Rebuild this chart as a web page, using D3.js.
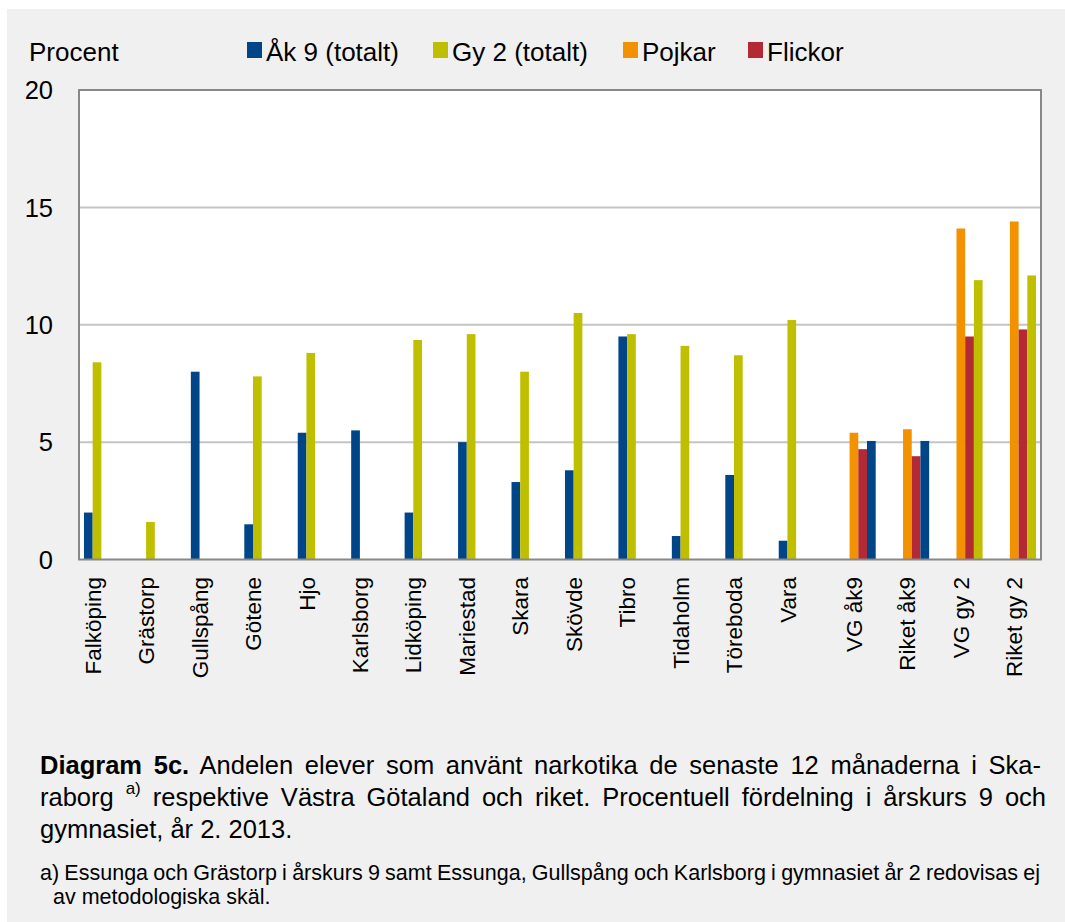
<!DOCTYPE html>
<html>
<head>
<meta charset="utf-8">
<script src="https://cdn.jsdelivr.net/npm/d3@7"></script>
<style>
  body { margin: 0; background: #fff; }
  svg { display: block; font-family: "Liberation Sans", Arial, sans-serif; }
</style>
</head>
<body>
<div id="chart"></div>
<script>
// data (percent)
const categories = ['Falköping', 'Grästorp', 'Gullspång', 'Götene', 'Hjo', 'Karlsborg', 'Lidköping',
    'Mariestad', 'Skara', 'Skövde', 'Tibro', 'Tidaholm', 'Töreboda', 'Vara',
    'VG åk9', 'Riket åk9', 'VG gy 2', 'Riket gy 2'];
const ak9 = [2.0, null, 8.0, 1.5, 5.4, 5.5, 2.0, 5.0, 3.3, 3.8, 9.5, 1.0, 3.6, 0.8, null, null, null, null];
const gy2 = [8.4, 1.6, null, 7.8, 8.8, null, 9.35, 9.6, 8.0, 10.5, 9.6, 9.1, 8.7, 10.2, null, null, null, null];
const pojkar = [null, null, null, null, null, null, null, null, null, null, null, null, null, null, 5.4, 5.55, 14.1, 14.4];
const flickor = [null, null, null, null, null, null, null, null, null, null, null, null, null, null, 4.7, 4.4, 9.5, 9.8];
const totalt = [null, null, null, null, null, null, null, null, null, null, null, null, null, null, 5.05, 5.05, 11.9, 12.1];
const yTicks = [0, 5, 10, 15, 20];

const legendItems = [
    { label: 'Åk 9 (totalt)', key: 'ak9' },
    { label: 'Gy 2 (totalt)', key: 'gy2' },
    { label: 'Pojkar', key: 'pojkar' },
    { label: 'Flickor', key: 'flickor' }
];

const colors = { ak9: '#004587', gy2: '#bfbf00', pojkar: '#f39200', flickor: '#b32a35' };

const W = 1065, H = 922;
const plot = { left: 79, right: 1041, top: 90, bottom: 559.5 };

const svg = d3.select('#chart').append('svg')
    .attr('width', W)
    .attr('height', H);

// grey panel
svg.append('rect')
    .attr('x', 7).attr('y', 9)
    .attr('width', W - 7).attr('height', H - 9)
    .style('fill', '#f0f0f0');

const x0 = d3.scaleBand()
    .domain(categories)
    .range([plot.left, plot.right])
    .padding(0);

const x1 = d3.scaleBand()
    .domain(['ak9', 'gy2', 'pojkar', 'flickor', 'totalt'])
    .range([0, x0.bandwidth()])
    .paddingInner(0)
    .paddingOuter(0.57);

const y = d3.scaleLinear()
    .domain([0, 20])
    .range([plot.bottom, plot.top]);

// plot area
svg.append('rect')
    .attr('x', plot.left).attr('y', plot.top)
    .attr('width', plot.right - plot.left)
    .attr('height', plot.bottom - plot.top)
    .style('fill', '#fff');

// gridlines
svg.append('g')
    .selectAll('line')
    .data(yTicks.filter(t => t > 0 && t < 20))
    .join('line')
    .attr('x1', plot.left).attr('x2', plot.right)
    .attr('y1', d => y(d)).attr('y2', d => y(d))
    .style('stroke', '#c4c4c4')
    .style('stroke-width', '2px');

// y tick labels
svg.append('g')
    .selectAll('text')
    .data(yTicks)
    .join('text')
    .attr('x', 53)
    .attr('y', d => y(d))
    .attr('dy', '0.36em')
    .attr('text-anchor', 'end')
    .style('font-size', '25.5px')
    .style('fill', '#000')
    .text(d => d);

// bars
const rows = [];
categories.forEach((c, i) => {
    const isGy = c.indexOf('gy') >= 0;
    [['ak9', ak9[i], colors.ak9],
     ['gy2', gy2[i], colors.gy2],
     ['pojkar', pojkar[i], colors.pojkar],
     ['flickor', flickor[i], colors.flickor],
     ['totalt', totalt[i], isGy ? colors.gy2 : colors.ak9]
    ].forEach(([key, v, col]) => {
        if (v !== null) rows.push({ cat: c, key: key, value: v, color: col });
    });
});

svg.append('g')
    .selectAll('rect')
    .data(rows)
    .join('rect')
    .attr('x', d => x0(d.cat) + x1(d.key))
    .attr('y', d => y(d.value))
    .attr('width', x1.bandwidth())
    .attr('height', d => y(0) - y(d.value))
    .style('fill', d => d.color);

// plot border
svg.append('rect')
    .attr('x', plot.left).attr('y', plot.top)
    .attr('width', plot.right - plot.left)
    .attr('height', plot.bottom - plot.top)
    .style('fill', 'none')
    .style('stroke', '#888')
    .style('stroke-width', '2px');

// category labels (rotated)
svg.append('g')
    .selectAll('text')
    .data(categories)
    .join('text')
    .attr('transform', (d, i) => {
        const cx = pojkar[i] !== null
            ? x0(d) + x0.bandwidth() / 2
            : x0(d) + x1('ak9') + x1.bandwidth();
        return `translate(${cx},577) rotate(-90)`;
    })
    .attr('dy', '0.36em')
    .attr('text-anchor', 'end')
    .style('font-size', '22.5px')
    .style('fill', '#000')
    .text(d => d);

// y title
svg.append('text')
    .attr('x', 29).attr('y', 61)
    .style('font-size', '26px')
    .style('fill', '#000')
    .text('Procent');

// legend
const legendX = [247, 433, 623, 748];
const lg = svg.append('g')
    .selectAll('g')
    .data(legendItems)
    .join('g')
    .attr('transform', (d, i) => `translate(${legendX[i]},0)`);

lg.append('rect')
    .attr('x', 0).attr('y', 42)
    .attr('width', 15).attr('height', 16)
    .style('fill', d => colors[d.key]);

lg.append('text')
    .attr('x', 19).attr('y', 61)
    .style('font-size', '26px')
    .style('fill', '#000')
    .text(d => d.label);

// caption
function justify (sel, width) {
    const node = sel.node();
    const len = node.getComputedTextLength();
    const spaces = (node.textContent.match(/ /g) || []).length;
    if (spaces > 0) sel.style('word-spacing', `${(width - len) / spaces}px`);
}

const capSize = '25.5px';

const l1 = svg.append('text')
    .attr('x', 40).attr('y', 774)
    .style('font-size', capSize)
    .style('fill', '#000');
l1.append('tspan').style('font-weight', 'bold').text('Diagram 5c.');
l1.append('tspan').text(' Andelen elever som använt narkotika de senaste 12 månaderna i Ska-');
justify(l1, 1041 - 40);

const l2 = svg.append('text')
    .attr('x', 40).attr('y', 806)
    .style('font-size', capSize)
    .style('fill', '#000');
l2.append('tspan').text('raborg ');
l2.append('tspan').attr('dy', -12).style('font-size', '17px').text('a)');
l2.append('tspan').attr('dy', 12).text(' respektive Västra Götaland och riket. Procentuell fördelning i årskurs 9 och');
justify(l2, 1046 - 40);

svg.append('text')
    .attr('x', 40).attr('y', 838)
    .style('font-size', capSize)
    .style('fill', '#000')
    .text('gymnasiet, år 2. 2013.');

const f1 = svg.append('text')
    .attr('x', 40).attr('y', 880)
    .style('font-size', '21.5px')
    .style('fill', '#000')
    .text('a) Essunga och Grästorp i årskurs 9 samt Essunga, Gullspång och Karlsborg i gymnasiet år 2 redovisas ej');
justify(f1, 1040 - 40);

svg.append('text')
    .attr('x', 53).attr('y', 904)
    .style('font-size', '21.5px')
    .style('fill', '#000')
    .text('av metodologiska skäl.');
</script>
</body>
</html>
